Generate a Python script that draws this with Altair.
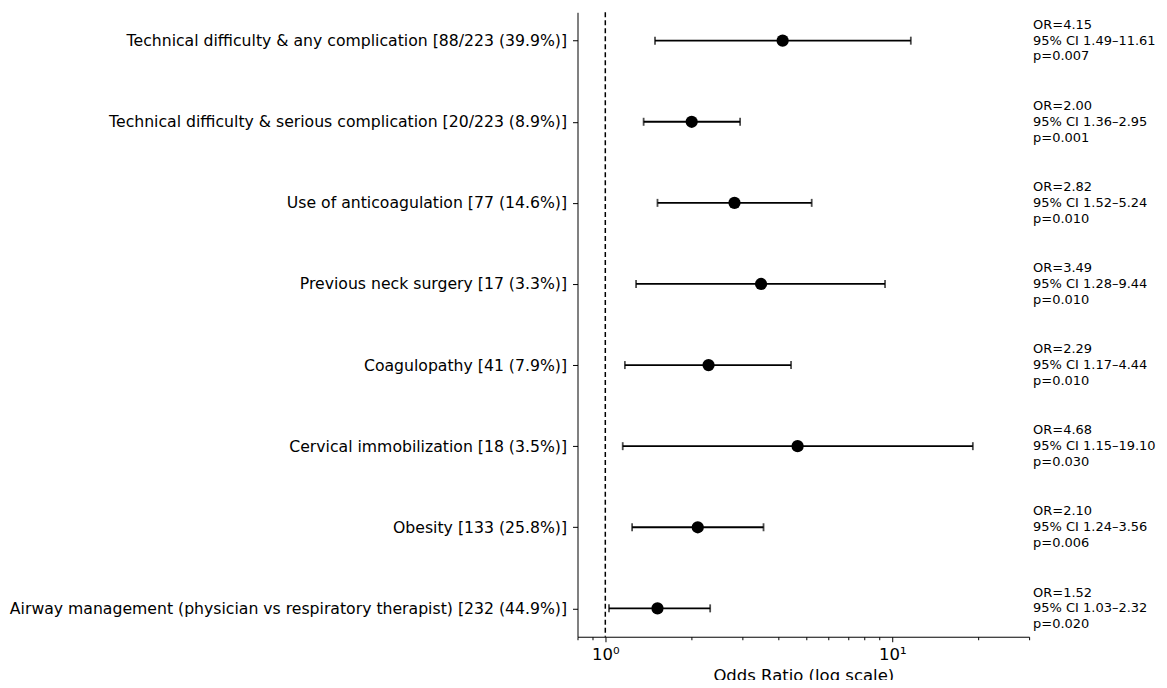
import altair as alt
import pandas as pd

labels = [
    "Technical difficulty & any complication [88/223 (39.9%)]",
    "Technical difficulty & serious complication [20/223 (8.9%)]",
    "Use of anticoagulation [77 (14.6%)]",
    "Previous neck surgery [17 (3.3%)]",
    "Coagulopathy [41 (7.9%)]",
    "Cervical immobilization [18 (3.5%)]",
    "Obesity [133 (25.8%)]",
    "Airway management (physician vs respiratory therapist) [232 (44.9%)]",
]
odds = [4.15, 2.00, 2.82, 3.49, 2.29, 4.68, 2.10, 1.52]
ci_low = [1.49, 1.36, 1.52, 1.28, 1.17, 1.15, 1.24, 1.03]
ci_high = [11.61, 2.95, 5.24, 9.44, 4.44, 19.10, 3.56, 2.32]
p_values = ["0.007", "0.001", "0.010", "0.010", "0.010", "0.030", "0.006", "0.020"]

major_ticks = [1, 10]
minor_ticks = [0.8, 0.9, 2, 3, 4, 5, 6, 7, 8, 9, 20, 30]
x_domain = [0.8, 30]

annot = [
    f"OR={o:.2f}\n95% CI {lo:.2f}\u2013{hi:.2f}\np={p}"
    for o, lo, hi, p in zip(odds, ci_low, ci_high, p_values)
]

df = pd.DataFrame({
    "label": labels, "or": odds, "lo": ci_low, "hi": ci_high, "annot": annot,
})
ref = pd.DataFrame({"ref": [1.0]})

FONT = "DejaVu Sans"
all_ticks = sorted(major_ticks + minor_ticks)

xscale = alt.Scale(type="log", domain=x_domain, nice=False)
x_axis = alt.Axis(
    values=all_ticks,
    labelExpr="datum.value == 1 ? '10\u2070' : (datum.value == 10 ? '10\u00b9' : '')",
    labelFontSize=16.5, labelFont=FONT, labelColor="black",
    tickSize={"condition": {"test": "datum.value == 1 || datum.value == 10", "value": 5}, "value": 3},
    tickColor="black", domainColor="black", grid=False,
    labelOverlap=False, labelFlush=False, labelPadding=5,
    title="Odds Ratio (log scale)", titleFontSize=16.5, titleFont=FONT,
    titleFontWeight="normal", titleColor="black", titlePadding=4,
)
y_enc = alt.Y(
    "label:N", sort=labels, scale=alt.Scale(type="point", padding=0.35),
    axis=alt.Axis(title=None, labelFontSize=15.7, labelFont=FONT, labelColor="black",
                  tickColor="black", domainColor="black", tickSize=5,
                  labelPadding=6, grid=False, labelLimit=0),
)

base = alt.Chart(df)

dash = alt.Chart(ref).mark_rule(color="black", strokeDash=[5, 3], strokeWidth=1.5).encode(
    x=alt.X("ref:Q", scale=xscale, axis=x_axis)
)
bars = base.mark_rule(color="black", strokeWidth=1.8).encode(
    x=alt.X("lo:Q", scale=xscale, axis=x_axis), x2="hi:Q", y=y_enc
)
cap_lo = base.mark_tick(color="black", size=8, thickness=1.8, orient="vertical").encode(
    x=alt.X("lo:Q", scale=xscale), y=y_enc
)
cap_hi = base.mark_tick(color="black", size=8, thickness=1.8, orient="vertical").encode(
    x=alt.X("hi:Q", scale=xscale), y=y_enc
)
pts = base.mark_circle(color="black", size=150, opacity=1).encode(
    x=alt.X("or:Q", scale=xscale), y=y_enc
)
txt = base.mark_text(align="left", baseline="middle", lineBreak="\n", fontSize=13,
                     lineHeight=15.8, dy=-15.8, font=FONT, color="black").encode(
    x=alt.value(456), y=y_enc, text="annot:N"
)

chart = alt.layer(dash, bars, cap_lo, cap_hi, pts, txt).properties(
    width=452, height=625, autosize="none",
    padding={"left": 570, "top": 4, "right": 130, "bottom": 43},
).configure_view(stroke=None)

chart.save("out.html", embed_options={"renderer": "svg", "actions": False})
